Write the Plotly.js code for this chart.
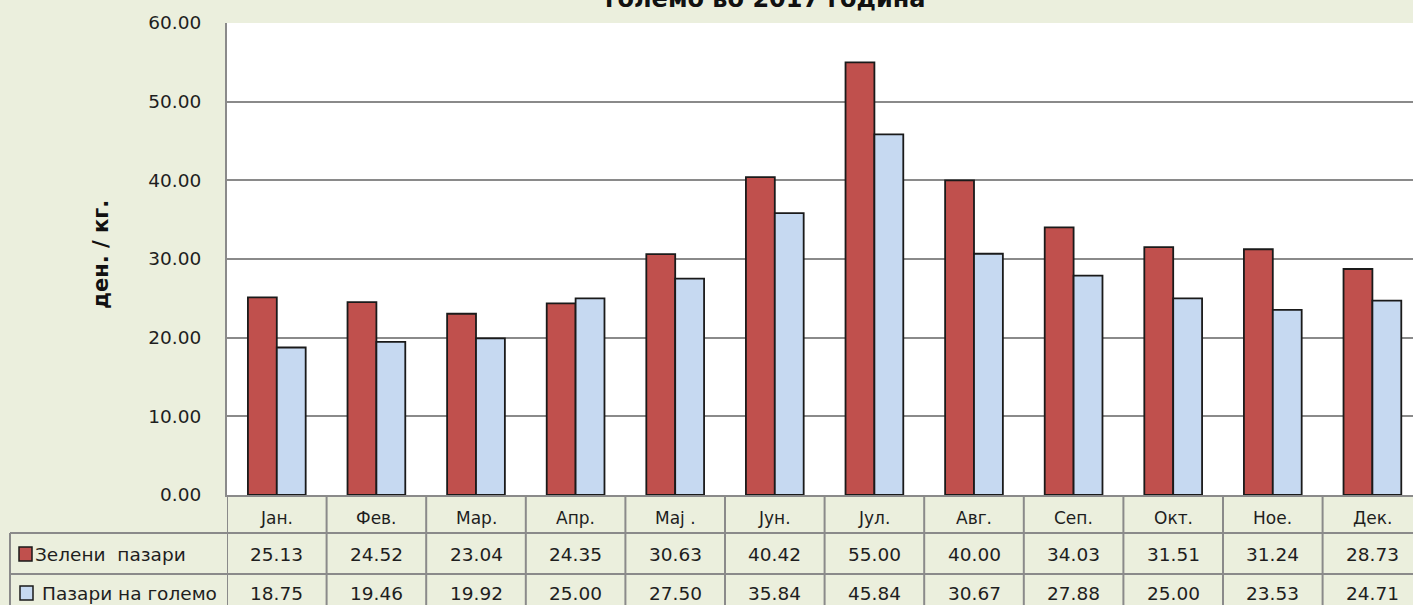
<!DOCTYPE html>
<html>
<head>
<meta charset="utf-8">
<script src="https://cdn.plot.ly/plotly-3.0.1.min.js"></script>
<style>
html,body{margin:0;padding:0;background:#ebefdd;}
#chart{width:1413px;height:605px;}
</style>
</head>
<body>
<div id="chart"></div>
<script>
const months = ["Јан.", "Фев.", "Мар.", "Апр.", "Мај .", "Јун.", "Јул.", "Авг.", "Сеп.", "Окт.", "Ное.", "Дек."];
const seriesNames = ["Зелени  пазари", "Пазари на големо"];
const greenMarkets = [25.13, 24.52, 23.04, 24.35, 30.63, 40.42, 55.00, 40.00, 34.03, 31.51, 31.24, 28.73];
const wholesaleMarkets = [18.75, 19.46, 19.92, 25.00, 27.50, 35.84, 45.84, 30.67, 27.88, 25.00, 23.53, 24.71];
const titleTail = "големо во 2017 година";
const yTitle = "ден. / кг.";

const FONT = "DejaVu Sans";
const RED = "#c0504d", BLUE = "#c6d9f1", GRID = "#8a8a8a", BG = "#ebefdd";
const plotTop = 23, plotBottom = 495, plotLeft = 227, W = 1413, H = 605;
const plotH = plotBottom - plotTop, plotW = W - plotLeft;
const py = d => -d / plotH;               // pixels below plot bottom -> paper y
const px = x => (x - plotLeft) / plotW;   // absolute pixel x -> paper x
const idx = months.map((m, i) => i);

const traces = [
  {type: "bar", x: idx, y: greenMarkets, name: seriesNames[0],
   marker: {color: RED, line: {color: "#1a1a1a", width: 1.8}}, hoverinfo: "y"},
  {type: "bar", x: idx, y: wholesaleMarkets, name: seriesNames[1],
   marker: {color: BLUE, line: {color: "#1a1a1a", width: 1.8}}, hoverinfo: "y"}
];

const shapes = [];
const annotations = [];
const lineStyle = {color: GRID, width: 2};
for (let i = 0; i < months.length; i++) {
  shapes.push({type: "line", xref: "x", yref: "paper", x0: i - 0.5, x1: i - 0.5,
    y0: 0, y1: py(130), line: lineStyle, layer: "above"});
}
shapes.push({type: "line", xref: "paper", yref: "paper", x0: px(10), x1: px(10),
  y0: py(38), y1: py(130), line: lineStyle});
[38, 79].forEach(d => shapes.push({type: "line", xref: "paper", yref: "paper",
  x0: px(10), x1: 1.01, y0: py(d), y1: py(d), line: lineStyle}));
shapes.push({type: "rect", xref: "paper", yref: "paper", x0: px(19), x1: px(32),
  y0: py(52), y1: py(66), fillcolor: RED, line: {color: "#1a1a1a", width: 1.5}});
shapes.push({type: "rect", xref: "paper", yref: "paper", x0: px(20), x1: px(33),
  y0: py(91), y1: py(105), fillcolor: BLUE, line: {color: "#1a1a1a", width: 1.5}});

months.forEach((m, i) => {
  annotations.push({xref: "x", yref: "paper", x: i, y: py(23), text: m, showarrow: false,
    font: {family: FONT, size: 17, color: "#1e1e1e"}, yanchor: "middle"});
  annotations.push({xref: "x", yref: "paper", x: i, y: py(59), text: greenMarkets[i].toFixed(2),
    showarrow: false, font: {family: FONT, size: 18.5, color: "#1e1e1e"}, yanchor: "middle"});
  annotations.push({xref: "x", yref: "paper", x: i, y: py(98), text: wholesaleMarkets[i].toFixed(2),
    showarrow: false, font: {family: FONT, size: 18.5, color: "#1e1e1e"}, yanchor: "middle"});
});
annotations.push({xref: "paper", yref: "paper", x: px(33), y: py(59), text: seriesNames[0],
  showarrow: false, xanchor: "left", yanchor: "middle", font: {family: FONT, size: 18.5, color: "#1e1e1e"}});
annotations.push({xref: "paper", yref: "paper", x: px(40), y: py(98), text: seriesNames[1],
  showarrow: false, xanchor: "left", yanchor: "middle", font: {family: FONT, size: 18.5, color: "#1e1e1e"}});
annotations.push({xref: "paper", yref: "paper", x: px(101), y: (plotBottom - 255) / plotH,
  text: "<b>" + yTitle + "</b>", textangle: -90, showarrow: false,
  font: {family: FONT, size: 21, color: "#111"}, xanchor: "center", yanchor: "middle"});
annotations.push({xref: "paper", yref: "paper", x: px(765), y: (plotBottom - 15) / plotH,
  text: "<b>" + titleTail + "</b>", showarrow: false, xanchor: "center", yanchor: "bottom",
  font: {family: FONT, size: 24, color: "#111"}});

const layout = {
  width: W, height: H,
  paper_bgcolor: BG, plot_bgcolor: "#ffffff",
  margin: {l: plotLeft, r: 0, t: plotTop, b: H - plotBottom, pad: 0},
  showlegend: false,
  barmode: "group", bargap: 0.42, bargroupgap: 0,
  xaxis: {range: [-0.5, -0.5 + plotW / 99.6], showticklabels: false, showgrid: false,
    zeroline: false, showline: true, linecolor: GRID, linewidth: 2, ticks: "", fixedrange: true},
  yaxis: {range: [0, 60], dtick: 10, tick0: 0, tickformat: ".2f", showgrid: true,
    gridcolor: GRID, gridwidth: 2, zeroline: false, showline: true, linecolor: GRID,
    linewidth: 2, ticks: "", ticklabelstandoff: 20,
    tickfont: {family: FONT, size: 18.5, color: "#1e1e1e"}, fixedrange: true},
  shapes: shapes,
  annotations: annotations
};

Plotly.newPlot("chart", traces, layout, {displayModeBar: false, staticPlot: true});
</script>
</body>
</html>
